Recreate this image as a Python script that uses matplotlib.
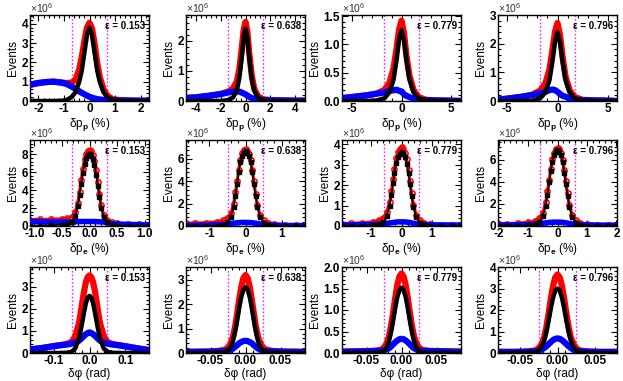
import numpy as np
import matplotlib
matplotlib.use("Agg")
import matplotlib.pyplot as plt
from matplotlib.ticker import AutoMinorLocator

plt.rcParams['font.family'] = ['Liberation Sans', 'DejaVu Sans']
plt.rcParams['font.weight'] = 'bold'
plt.rcParams['mathtext.fontset'] = 'custom'
plt.rcParams['mathtext.rm'] = 'Liberation Sans'
plt.rcParams['mathtext.bf'] = 'Liberation Sans:bold'
plt.rcParams['mathtext.default'] = 'bf'
plt.rcParams['axes.unicode_minus'] = False

# efficiencies shown in each column
eps_labels = ['0.153', '0.638', '0.779', '0.796']

# ---- row 1 : delta p_p (%) , values in units of 1e6 events
x_pp_1 = [-2.3, -2.0, -1.7, -1.4, -1.1, -0.9, -0.7, -0.55, -0.4, -0.3, -0.2, -0.1, 0.0,
          0.1, 0.2, 0.3, 0.4, 0.55, 0.7, 0.9, 1.2, 1.6, 2.0, 2.3]
red_pp_1 = [0.85, 0.93, 0.98, 1.0, 0.96, 0.93, 0.95, 1.1, 1.65, 2.3, 3.1, 3.8, 4.05,
            3.75, 2.95, 2.0, 1.25, 0.6, 0.28, 0.1, 0.04, 0.02, 0.015, 0.01]
blk_pp_1 = [0, 0, 0, 0, 0.01, 0.05, 0.2, 0.45, 1.0, 1.6, 2.5, 3.4, 3.8,
            3.4, 2.5, 1.6, 1.0, 0.45, 0.2, 0.06, 0.01, 0, 0, 0]
blu_pp_1 = [0.85, 0.93, 0.98, 1.0, 0.95, 0.88, 0.75, 0.63, 0.5, 0.42, 0.35, 0.28, 0.22,
            0.17, 0.13, 0.1, 0.08, 0.06, 0.05, 0.04, 0.03, 0.02, 0.015, 0.01]

x_pp_2 = [-4.8, -4.0, -3.0, -2.0, -1.4, -1.0, -0.7, -0.5, -0.3, -0.15, 0.0,
          0.15, 0.3, 0.5, 0.7, 1.0, 1.4, 2.0, 3.0, 4.0, 4.8]
red_pp_2 = [0.1, 0.12, 0.17, 0.23, 0.31, 0.42, 0.65, 1.05, 1.75, 2.35, 2.62,
            2.3, 1.6, 0.85, 0.42, 0.16, 0.06, 0.03, 0.02, 0.01, 0.01]
blk_pp_2 = [0, 0, 0, 0, 0.03, 0.12, 0.35, 0.75, 1.45, 2.1, 2.4,
            2.1, 1.45, 0.75, 0.35, 0.12, 0.03, 0, 0, 0, 0]
blu_pp_2 = [0.1, 0.12, 0.17, 0.23, 0.28, 0.31, 0.32, 0.31, 0.28, 0.25, 0.22,
            0.18, 0.14, 0.1, 0.07, 0.04, 0.03, 0.02, 0.015, 0.01, 0.01]

x_pp_3 = [-6.0, -5.0, -3.5, -2.5, -1.7, -1.2, -0.8, -0.5, -0.25, 0.0,
          0.25, 0.5, 0.8, 1.2, 1.7, 2.5, 3.5, 5.0, 6.0]
red_pp_3 = [0.05, 0.07, 0.1, 0.13, 0.2, 0.33, 0.58, 0.92, 1.26, 1.42,
            1.2, 0.8, 0.45, 0.2, 0.07, 0.02, 0.01, 0.005, 0]
blk_pp_3 = [0, 0, 0, 0.01, 0.05, 0.16, 0.38, 0.72, 1.08, 1.25,
            1.08, 0.72, 0.38, 0.16, 0.05, 0.01, 0, 0, 0]
blu_pp_3 = [0.05, 0.07, 0.1, 0.13, 0.15, 0.18, 0.19, 0.2, 0.18, 0.17,
            0.12, 0.09, 0.07, 0.04, 0.02, 0.015, 0.01, 0.005, 0]

x_pp_4 = [-5.9, -5.0, -3.5, -2.5, -1.7, -1.2, -0.8, -0.5, -0.25, 0.0,
          0.25, 0.5, 0.8, 1.2, 1.7, 2.5, 3.5, 5.0, 5.9]
red_pp_4 = [0.05, 0.08, 0.15, 0.22, 0.37, 0.62, 1.1, 1.78, 2.42, 2.72,
            2.3, 1.55, 0.85, 0.38, 0.14, 0.04, 0.02, 0.01, 0]
blk_pp_4 = [0, 0, 0, 0.01, 0.1, 0.3, 0.72, 1.38, 2.05, 2.4,
            2.05, 1.38, 0.72, 0.3, 0.1, 0.01, 0, 0, 0]
blu_pp_4 = [0.05, 0.08, 0.15, 0.21, 0.27, 0.32, 0.38, 0.4, 0.38, 0.32,
            0.25, 0.18, 0.15, 0.08, 0.04, 0.03, 0.02, 0.01, 0]

# ---- row 2 : delta p_e (%)
x_pe_1 = [-1.08, -0.9, -0.7, -0.5, -0.4, -0.32, -0.26, -0.21, -0.18, -0.15, -0.12, -0.09, -0.06, -0.03, 0.0,
          0.03, 0.06, 0.09, 0.12, 0.15, 0.18, 0.21, 0.26, 0.32, 0.4, 0.5, 0.7, 0.9, 1.08]
red_pe_1 = [0.72, 0.74, 0.76, 0.8, 0.88, 1.05, 1.55, 2.6, 3.85, 5.1, 6.4, 7.45, 8.05, 8.4, 8.5,
            8.35, 7.95, 7.3, 6.2, 4.9, 3.6, 2.3, 1.2, 0.65, 0.4, 0.3, 0.2, 0.17, 0.15]
blk_pe_1 = [0.03, 0.05, 0.08, 0.15, 0.25, 0.5, 1.1, 2.2, 3.45, 4.7, 5.9, 6.95, 7.55, 7.9, 8.0,
            7.85, 7.45, 6.8, 5.7, 4.5, 3.25, 2.05, 0.95, 0.4, 0.15, 0.05, 0.01, 0, 0]
blu_pe_1 = [0.5, 0.48, 0.45, 0.45, 0.45, 0.47, 0.48, 0.49, 0.5, 0.5, 0.5, 0.5, 0.5, 0.5, 0.5,
            0.5, 0.5, 0.5, 0.49, 0.48, 0.47, 0.46, 0.45, 0.35, 0.28, 0.22, 0.18, 0.15, 0.13]

x_pe_2 = [-1.65, -1.4, -1.1, -0.8, -0.62, -0.5, -0.4, -0.33, -0.28, -0.23, -0.19, -0.14, -0.09, -0.05, 0.0,
          0.05, 0.09, 0.14, 0.19, 0.23, 0.28, 0.33, 0.4, 0.5, 0.62, 0.8, 1.1, 1.4, 1.65]
red_pe_2 = [0.25, 0.27, 0.3, 0.38, 0.5, 0.72, 1.2, 2.0, 3.0, 4.05, 5.0, 5.95, 6.5, 6.8, 6.9,
            6.75, 6.45, 5.9, 5.0, 4.0, 2.9, 1.9, 1.0, 0.5, 0.3, 0.2, 0.12, 0.1, 0.08]
blk_pe_2 = [0, 0, 0.01, 0.04, 0.12, 0.35, 0.85, 1.7, 2.7, 3.8, 4.8, 5.7, 6.25, 6.55, 6.7,
            6.55, 6.25, 5.7, 4.8, 3.8, 2.7, 1.7, 0.8, 0.3, 0.1, 0.03, 0, 0, 0]
blu_pe_2 = [0.05, 0.06, 0.07, 0.1, 0.14, 0.18, 0.22, 0.25, 0.27, 0.29, 0.3, 0.31, 0.32, 0.32, 0.32,
            0.31, 0.31, 0.3, 0.29, 0.27, 0.25, 0.22, 0.18, 0.13, 0.1, 0.07, 0.05, 0.04, 0.04]

x_pe_3 = [-1.95, -1.65, -1.3, -0.95, -0.74, -0.6, -0.48, -0.39, -0.33, -0.27, -0.23, -0.17, -0.11, -0.06, 0.0,
          0.06, 0.11, 0.17, 0.23, 0.27, 0.33, 0.39, 0.48, 0.6, 0.74, 0.95, 1.3, 1.65, 1.95]
red_pe_3 = [0.12, 0.13, 0.16, 0.2, 0.28, 0.4, 0.7, 1.15, 1.7, 2.3, 2.8, 3.3, 3.6, 3.77, 3.85,
            3.76, 3.58, 3.27, 2.75, 2.22, 1.6, 1.05, 0.55, 0.28, 0.16, 0.1, 0.07, 0.05, 0.05]
blk_pe_3 = [0.01, 0.01, 0.01, 0.03, 0.08, 0.2, 0.5, 0.98, 1.52, 2.1, 2.6, 3.07, 3.37, 3.53, 3.6,
            3.52, 3.35, 3.05, 2.57, 2.05, 1.45, 0.92, 0.42, 0.15, 0.05, 0.01, 0, 0, 0]
blu_pe_3 = [0.05, 0.05, 0.06, 0.07, 0.09, 0.11, 0.13, 0.15, 0.16, 0.17, 0.18, 0.19, 0.2, 0.2, 0.2,
            0.2, 0.2, 0.19, 0.18, 0.17, 0.15, 0.13, 0.11, 0.09, 0.07, 0.06, 0.05, 0.05, 0.04]

x_pe_4 = [-2.0, -1.7, -1.35, -1.0, -0.78, -0.62, -0.5, -0.4, -0.34, -0.28, -0.23, -0.17, -0.11, -0.06, 0.0,
          0.06, 0.11, 0.17, 0.23, 0.28, 0.34, 0.4, 0.5, 0.62, 0.78, 1.0, 1.35, 1.7, 2.0]
red_pe_4 = [0.2, 0.22, 0.26, 0.33, 0.45, 0.7, 1.2, 2.15, 3.15, 4.2, 5.2, 6.1, 6.65, 6.97, 7.1,
            6.95, 6.6, 6.0, 5.05, 4.05, 2.95, 1.95, 1.0, 0.5, 0.28, 0.18, 0.12, 0.1, 0.09]
blk_pe_4 = [0.02, 0.02, 0.03, 0.06, 0.15, 0.4, 0.9, 1.8, 2.85, 3.95, 4.95, 5.85, 6.42, 6.77, 6.9,
            6.75, 6.4, 5.8, 4.85, 3.85, 2.75, 1.75, 0.8, 0.3, 0.1, 0.03, 0, 0, 0]
blu_pe_4 = [0.08, 0.09, 0.1, 0.13, 0.17, 0.21, 0.25, 0.28, 0.3, 0.32, 0.33, 0.34, 0.35, 0.35, 0.35,
            0.35, 0.34, 0.33, 0.31, 0.29, 0.26, 0.23, 0.19, 0.15, 0.12, 0.1, 0.08, 0.08, 0.07]

# ---- row 3 : delta phi (rad)
x_ph_1 = [-0.166, -0.13, -0.1, -0.08, -0.065, -0.05, -0.04, -0.03, -0.025, -0.02, -0.015, -0.01, -0.005, 0.0,
          0.005, 0.01, 0.015, 0.02, 0.025, 0.03, 0.04, 0.05, 0.065, 0.08, 0.1, 0.13, 0.166]
red_ph_1 = [0.16, 0.23, 0.31, 0.36, 0.4, 0.5, 0.75, 1.3, 1.75, 2.3, 2.8, 3.2, 3.42, 3.5,
            3.42, 3.2, 2.8, 2.3, 1.75, 1.3, 0.75, 0.5, 0.4, 0.36, 0.31, 0.22, 0.13]
blk_ph_1 = [0, 0, 0, 0, 0.01, 0.05, 0.2, 0.62, 0.98, 1.4, 1.85, 2.25, 2.5, 2.58,
            2.5, 2.25, 1.85, 1.4, 0.98, 0.62, 0.2, 0.05, 0.01, 0, 0, 0, 0]
blu_ph_1 = [0.16, 0.23, 0.31, 0.35, 0.38, 0.42, 0.47, 0.55, 0.62, 0.7, 0.78, 0.85, 0.9, 0.93,
            0.9, 0.85, 0.78, 0.7, 0.62, 0.55, 0.47, 0.42, 0.38, 0.35, 0.3, 0.22, 0.13]

x_ph_2 = [-0.085, -0.07, -0.055, -0.04, -0.03, -0.026, -0.022, -0.018, -0.015, -0.012, -0.009, -0.006, -0.003, 0.0,
          0.003, 0.006, 0.009, 0.012, 0.015, 0.018, 0.022, 0.026, 0.03, 0.04, 0.055, 0.07, 0.085]
red_ph_2 = [0.05, 0.05, 0.06, 0.08, 0.13, 0.2, 0.35, 0.65, 1.05, 1.6, 2.2, 2.72, 3.08, 3.2,
            3.08, 2.72, 2.2, 1.6, 1.05, 0.65, 0.35, 0.2, 0.13, 0.08, 0.06, 0.05, 0.05]
blk_ph_2 = [0, 0, 0, 0.01, 0.03, 0.08, 0.2, 0.48, 0.85, 1.33, 1.85, 2.3, 2.6, 2.7,
            2.6, 2.3, 1.85, 1.33, 0.85, 0.48, 0.2, 0.08, 0.03, 0.01, 0, 0, 0]
blu_ph_2 = [0.04, 0.05, 0.05, 0.06, 0.07, 0.09, 0.12, 0.18, 0.25, 0.32, 0.4, 0.45, 0.49, 0.5,
            0.49, 0.45, 0.4, 0.32, 0.25, 0.18, 0.12, 0.09, 0.07, 0.06, 0.05, 0.05, 0.04]

x_ph_3 = [-0.085, -0.07, -0.055, -0.04, -0.03, -0.026, -0.022, -0.018, -0.015, -0.012, -0.009, -0.006, -0.003, 0.0,
          0.003, 0.006, 0.009, 0.012, 0.015, 0.018, 0.022, 0.026, 0.03, 0.04, 0.055, 0.07, 0.085]
red_ph_3 = [0.03, 0.04, 0.04, 0.05, 0.07, 0.11, 0.2, 0.38, 0.62, 0.93, 1.28, 1.58, 1.78, 1.85,
            1.78, 1.58, 1.28, 0.93, 0.62, 0.38, 0.2, 0.11, 0.07, 0.05, 0.04, 0.04, 0.03]
blk_ph_3 = [0, 0, 0, 0, 0.015, 0.04, 0.11, 0.27, 0.48, 0.75, 1.04, 1.3, 1.46, 1.52,
            1.46, 1.3, 1.04, 0.75, 0.48, 0.27, 0.11, 0.04, 0.015, 0, 0, 0, 0]
blu_ph_3 = [0.03, 0.03, 0.04, 0.04, 0.05, 0.06, 0.08, 0.11, 0.15, 0.2, 0.25, 0.29, 0.32, 0.33,
            0.32, 0.29, 0.25, 0.2, 0.15, 0.11, 0.08, 0.06, 0.05, 0.04, 0.04, 0.03, 0.03]

x_ph_4 = [-0.08, -0.07, -0.055, -0.04, -0.03, -0.026, -0.022, -0.018, -0.015, -0.012, -0.009, -0.006, -0.003, 0.0,
          0.003, 0.006, 0.009, 0.012, 0.015, 0.018, 0.022, 0.026, 0.03, 0.04, 0.055, 0.07, 0.08]
red_ph_4 = [0.05, 0.05, 0.05, 0.07, 0.12, 0.2, 0.38, 0.72, 1.2, 1.83, 2.52, 3.12, 3.52, 3.65,
            3.52, 3.12, 2.52, 1.83, 1.2, 0.72, 0.38, 0.2, 0.12, 0.07, 0.05, 0.05, 0.05]
blk_ph_4 = [0, 0, 0, 0.01, 0.04, 0.1, 0.25, 0.56, 0.97, 1.5, 2.07, 2.57, 2.9, 3.0,
            2.9, 2.57, 2.07, 1.5, 0.97, 0.56, 0.25, 0.1, 0.04, 0.01, 0, 0, 0]
blu_ph_4 = [0.05, 0.05, 0.05, 0.06, 0.08, 0.1, 0.15, 0.23, 0.31, 0.41, 0.51, 0.6, 0.66, 0.68,
            0.66, 0.6, 0.51, 0.41, 0.31, 0.23, 0.15, 0.1, 0.08, 0.06, 0.05, 0.05, 0.05]

# cut positions (magenta lines), axis ranges and ticks
cut_pp = [0.68, 1.45, 1.8, 1.77]
cut_pe = [0.31, 0.48, 0.57, 0.61]
cut_ph = [0.048, 0.0245, 0.025, 0.0243]

xlim_pp = [2.33, 4.8, 6.0, 5.9]
xlim_pe = [1.08, 1.65, 1.95, 2.02]
xlim_ph = [0.166, 0.085, 0.085, 0.08]
ylim_pp = [4.45, 2.85, 1.52, 3.0]
ylim_pe = [9.6, 7.7, 4.2, 7.8]
ylim_ph = [3.88, 3.53, 2.0, 4.0]

xt_pp = [[-2, -1, 0, 1, 2], [-4, -2, 0, 2, 4], [-5, 0, 5], [-5, 0, 5]]
xt_pe = [[-1.0, -0.5, 0.0, 0.5, 1.0], [-1, 0, 1], [-1, 0, 1], [-2, -1, 0, 1, 2]]
xt_ph = [[-0.1, 0.0, 0.1], [-0.05, 0.0, 0.05], [-0.05, 0.0, 0.05], [-0.05, 0.0, 0.05]]
yt_pp = [[0, 1, 2, 3, 4], [0, 1, 2], [0.0, 0.5, 1.0, 1.5], [0, 1, 2, 3]]
yt_pe = [[0, 2, 4, 6, 8], [0, 2, 4, 6], [0, 1, 2, 3, 4], [0, 2, 4, 6]]
yt_ph = [[0, 1, 2, 3], [0, 1, 2, 3], [0.0, 0.5, 1.0, 1.5, 2.0], [0, 1, 2, 3, 4]]

rows = [
    dict(label='δp$_{p}$ (%)', cut=cut_pp, xlim=xlim_pp, ylim=ylim_pp, xt=xt_pp, yt=yt_pp,
         data=[(x_pp_1, red_pp_1, blk_pp_1, blu_pp_1), (x_pp_2, red_pp_2, blk_pp_2, blu_pp_2),
               (x_pp_3, red_pp_3, blk_pp_3, blu_pp_3), (x_pp_4, red_pp_4, blk_pp_4, blu_pp_4)],
         xfmt=['%d', '%d', '%d', '%d'], yfmt=['%d', '%d', '%.1f', '%d'], dots=False),
    dict(label='δp$_{e}$ (%)', cut=cut_pe, xlim=xlim_pe, ylim=ylim_pe, xt=xt_pe, yt=yt_pe,
         data=[(x_pe_1, red_pe_1, blk_pe_1, blu_pe_1), (x_pe_2, red_pe_2, blk_pe_2, blu_pe_2),
               (x_pe_3, red_pe_3, blk_pe_3, blu_pe_3), (x_pe_4, red_pe_4, blk_pe_4, blu_pe_4)],
         xfmt=['%.1f', '%d', '%d', '%d'], yfmt=['%d', '%d', '%d', '%d'], dots=True),
    dict(label='δφ (rad)', cut=cut_ph, xlim=xlim_ph, ylim=ylim_ph, xt=xt_ph, yt=yt_ph,
         data=[(x_ph_1, red_ph_1, blk_ph_1, blu_ph_1), (x_ph_2, red_ph_2, blk_ph_2, blu_ph_2),
               (x_ph_3, red_ph_3, blk_ph_3, blu_ph_3), (x_ph_4, red_ph_4, blk_ph_4, blu_ph_4)],
         xfmt=['%.1f', '%.2f', '%.2f', '%.2f'], yfmt=['%d', '%d', '%.1f', '%d'], dots=False),
]

W, H = 623, 381
fig = plt.figure(figsize=(W / 100, H / 100), dpi=100)

lefts = [30, 186, 342, 498]
tops = [15, 140, 267]
pw, ph = 119, 86

for r, row in enumerate(rows):
    for c in range(4):
        ax = fig.add_axes([lefts[c] / W, 1 - (tops[r] + ph) / H, pw / W, ph / H])
        x, red, blk, blu = row['data'][c]
        if row['dots']:
            ax.plot(x, red, color='red', lw=2.2, zorder=2)
            ax.plot(x, red, 'o', color='red', mfc='none', ms=3.8, mew=1.1, zorder=2)
            ax.plot(x, blu, color='blue', lw=4.0, zorder=3)
            ax.plot(x, blk, color='black', lw=1.2, zorder=4)
            ax.plot(x, blk, 's', color='black', ms=2.6, zorder=4)
        else:
            ax.plot(x, red, color='red', lw=4.5, zorder=2)
            ax.plot(x, blu, color='blue', lw=4.5, zorder=3)
            ax.plot(x, blk, color='black', lw=3.2, zorder=4)
        for v in (-row['cut'][c], row['cut'][c]):
            ax.axvline(v, color='magenta', ls=':', lw=1.0, zorder=1)

        ax.set_xlim(-row['xlim'][c], row['xlim'][c])
        ax.set_ylim(0, row['ylim'][c])
        ax.set_xticks(row['xt'][c])
        ax.set_yticks(row['yt'][c])
        ax.set_xticklabels([row['xfmt'][c] % t for t in row['xt'][c]])
        ax.set_yticklabels([row['yfmt'][c] % t for t in row['yt'][c]])
        ax.xaxis.set_minor_locator(AutoMinorLocator(5))
        ax.yaxis.set_minor_locator(AutoMinorLocator(5))
        ax.tick_params(which='both', direction='in', top=True, right=True,
                       labelsize=8.5, pad=1.5, width=0.8)
        ax.tick_params(which='major', length=4)
        ax.tick_params(which='minor', length=2)
        for s in ax.spines.values():
            s.set_linewidth(1.0)

        ax.set_xlabel(row['label'], fontsize=8.5, labelpad=0.5)
        ax.set_ylabel('Events', fontsize=8.5, labelpad=2)
        ax.text(0.0, 1.0, r'$\mathregular{\times10^{6}}$', transform=ax.transAxes,
                fontsize=7.5, fontweight='normal', color='#333333', ha='left', va='bottom')
        ax.text(0.97, 0.87, 'ε = ' + eps_labels[c], transform=ax.transAxes,
                fontsize=7, ha='right', va='center')

fig.savefig('out.png', dpi=100)
